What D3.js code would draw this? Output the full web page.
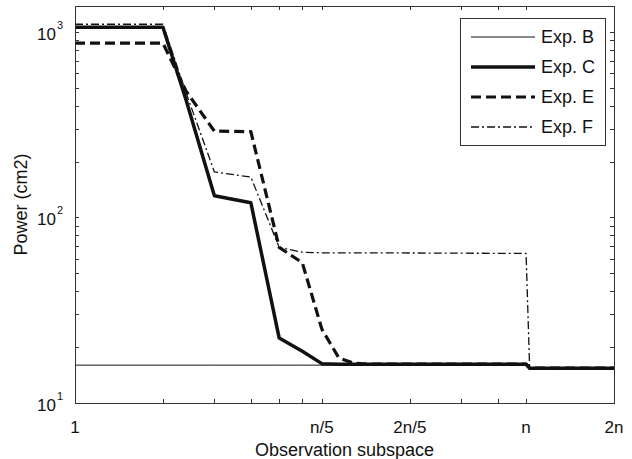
<!DOCTYPE html>
<html>
<head>
<meta charset="utf-8">
<script src="https://cdn.jsdelivr.net/npm/d3@7"></script>
<style>
  body { margin: 0; background: #fff; }
  text { font-family: "Liberation Sans", Arial, sans-serif; fill: #111; }
</style>
</head>
<body>
<svg id="chart"></svg>
<script>
// observation subspace dimension (n = 35)
const xValues = [1, 2, 2.4, 3, 4, 5, 6, 7, 8, 9, 10, 35, 36, 70];
const expB = [16, 16, 16, 16, 16, 16, 16, 16, 16, 16, 16, 16, 15.5, 15.5];
const expC = [1060, 1060, 430, 131, 120, 22.4, 19, 16.3, 16.2, 16.2, 16.2, 16.2, 15.4, 15.4];
const expE = [870, 870, 480, 292, 290, 69, 57, 25, 17.5, 16.4, 16.2, 16.2, 15.4, 15.4];
const expF = [1100, 1100, 470, 176, 165, 69, 65, 64.5, 64.5, 64.5, 64.5, 64, 15.4, 15.4];

const xTicks = [1, 2, 3, 4, 5, 6, 7, 14, 21, 28, 35, 70];
const xTickLabels = { 1: '1', 7: 'n/5', 14: '2n/5', 35: 'n', 70: '2n' };
const yMajor = [10, 100, 1000];
const yTicks = [10, 20, 30, 40, 50, 60, 70, 80, 90, 100, 200, 300, 400, 500, 600, 700, 800, 900, 1000];

const series = [
  { name: 'Exp. B', values: expB, width: 1, dash: null },
  { name: 'Exp. C', values: expC, width: 3.5, dash: null },
  { name: 'Exp. E', values: expE, width: 3.2, dash: '10,5' },
  { name: 'Exp. F', values: expF, width: 1.3, dash: '8,3,2,3' }
];

const W = 632, H = 459;
const margin = { top: 6, right: 18, bottom: 56, left: 75 };
const x = d3.scaleLog().domain([1, 70]).range([margin.left, W - margin.right]);
const y = d3.scaleLog().domain([10, 1380]).range([H - margin.bottom, margin.top]);
const tick = 4;

const svg = d3.select('#chart').attr('width', W).attr('height', H);

// ticks on all four sides, pointing in
const axisG = svg.append('g').attr('stroke', '#333').attr('stroke-width', 1);
xTicks.forEach(t => {
  const px = Math.round(x(t)) + 0.5;
  axisG.append('line').attr('x1', px).attr('x2', px)
    .attr('y1', y.range()[0]).attr('y2', y.range()[0] - tick);
  axisG.append('line').attr('x1', px).attr('x2', px)
    .attr('y1', y.range()[1]).attr('y2', y.range()[1] + tick);
});
yTicks.forEach(t => {
  const py = Math.round(y(t)) + 0.5;
  axisG.append('line').attr('y1', py).attr('y2', py)
    .attr('x1', x.range()[0]).attr('x2', x.range()[0] + tick);
  axisG.append('line').attr('y1', py).attr('y2', py)
    .attr('x1', x.range()[1]).attr('x2', x.range()[1] - tick);
});

// lines
const line = d3.line()
  .x((d, i) => x(xValues[i]))
  .y(d => y(d));

svg.append('g').selectAll('path').data(series).join('path')
  .attr('fill', 'none')
  .attr('stroke', '#111')
  .attr('stroke-width', d => d.width)
  .attr('stroke-dasharray', d => d.dash)
  .attr('stroke-linejoin', 'round')
  .attr('d', d => line(d.values));

// box
svg.append('rect')
  .attr('x', x.range()[0] + 0.5).attr('y', y.range()[1] + 0.5)
  .attr('width', x.range()[1] - x.range()[0])
  .attr('height', y.range()[0] - y.range()[1])
  .attr('fill', 'none').attr('stroke', '#333');

// x tick labels
svg.append('g').selectAll('text').data(xTicks.filter(t => xTickLabels[t])).join('text')
  .attr('x', d => x(d)).attr('y', 433)
  .attr('text-anchor', 'middle')
  .style('font-size', '17px')
  .text(d => xTickLabels[d]);

// y tick labels 10^k
const yl = svg.append('g').selectAll('text').data(yMajor).join('text')
  .attr('x', 63).attr('y', d => y(d) + 8)
  .attr('text-anchor', 'end')
  .style('font-size', '17px');
yl.append('tspan').text('10');
yl.append('tspan').attr('dy', -11).attr('dx', 1).style('font-size', '11px')
  .text(d => Math.round(Math.log10(d)));

// axis titles
svg.append('text')
  .attr('x', (x.range()[0] + x.range()[1]) / 2).attr('y', 456)
  .attr('text-anchor', 'middle').style('font-size', '18px')
  .text('Observation subspace');

svg.append('text')
  .attr('transform', `translate(27,${(y.range()[0] + y.range()[1]) / 2}) rotate(-90)`)
  .attr('text-anchor', 'middle').style('font-size', '18px')
  .text('Power (cm2)');

// legend
const legend = svg.append('g');
legend.append('rect')
  .attr('x', 460.5).attr('y', 18.5).attr('width', 145).attr('height', 127)
  .attr('fill', '#fff').attr('stroke', '#333');
const entry = legend.selectAll('g.entry').data(series).join('g')
  .attr('class', 'entry')
  .attr('transform', (d, i) => `translate(0,${37 + i * 30})`);
entry.append('line')
  .attr('x1', 471).attr('x2', 535)
  .attr('stroke', '#111')
  .attr('stroke-width', d => d.width)
  .attr('stroke-dasharray', d => d.dash);
entry.append('text')
  .attr('x', 541).attr('y', 6)
  .style('font-size', '18px')
  .text(d => d.name);
</script>
</body>
</html>
